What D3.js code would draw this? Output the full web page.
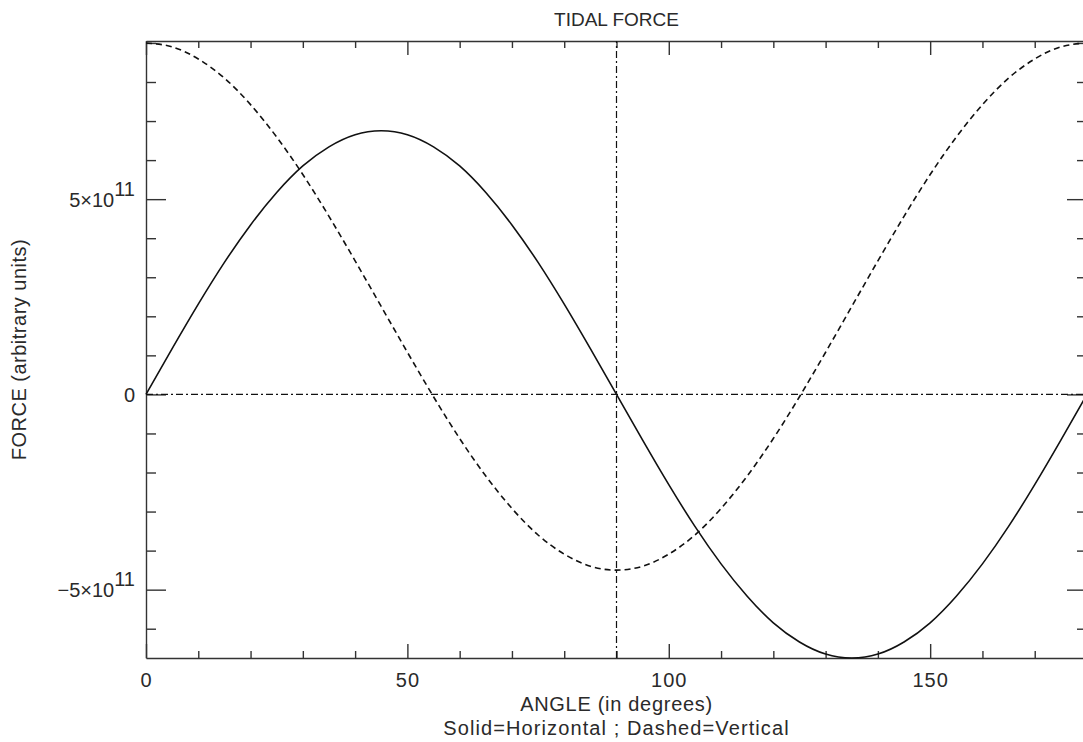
<!DOCTYPE html>
<html lang="en">
  <head>
    <meta charset="utf-8">
    <title>Tidal force</title>
    <script src="https://d3js.org/d3.v7.min.js"></script>
    <style>
      body { margin: 0; background: white; }
      svg { background: white; display: block; }
      text { font-family: "Liberation Sans", Arial, sans-serif; fill: #2a2a2a; }
      .axis path, .axis line { stroke: #333; stroke-width: 1.4; }
      .axis text { font-size: 20px; fill: #2a2a2a; font-family: "Liberation Sans", Arial, sans-serif; }
    </style>
  </head>
  <body>
    <script>
      // angle in degrees, force in units of 1e11
      var angles = [0, 5, 10, 15, 20, 25, 30, 35, 40, 45, 50, 55, 60, 65, 70, 75, 80, 85, 90,
                    95, 100, 105, 110, 115, 120, 125, 130, 135, 140, 145, 150, 155, 160, 165, 170, 175, 180];
      var horizontal = [0, 1.17, 2.31, 3.38, 4.34, 5.17, 5.85, 6.34, 6.65, 6.75, 6.65, 6.34, 5.85, 5.17, 4.34, 3.38, 2.31, 1.17, 0,
                        -1.17, -2.31, -3.38, -4.34, -5.17, -5.85, -6.34, -6.65, -6.75, -6.65, -6.34, -5.85, -5.17, -4.34, -3.38, -2.31, -1.17, 0];
      var vertical = [9.0, 8.9, 8.59, 8.1, 7.42, 6.59, 5.63, 4.56, 3.42, 2.25, 1.08, -0.06, -1.13, -2.09, -2.92, -3.6, -4.09, -4.4, -4.5,
                      -4.4, -4.09, -3.6, -2.92, -2.09, -1.13, -0.06, 1.08, 2.25, 3.42, 4.56, 5.63, 6.59, 7.42, 8.1, 8.59, 8.9, 9.0];
      var xMajor = [0, 50, 100, 150];
      var xMinor = [10, 20, 30, 40, 60, 70, 80, 90, 110, 120, 130, 140, 160, 170];
      var yMajor = [-5, 0, 5];
      var yMinor = [-6, -4, -3, -2, -1, 1, 2, 3, 4, 6, 7, 8, 9];

      var W = 1083, H = 742;
      var mLeft = 146, mRight = 1087, mTop = 41, mBottom = 658;

      var svg = d3.select("body").append("svg").attr("width", W).attr("height", H);

      var x = d3.scaleLinear().domain([0, 180]).range([mLeft, mRight]);
      var y = d3.scaleLinear().domain([-6.75, 9.05]).range([mBottom, mTop]);

      // axes: ticks point inward
      svg.append("g").attr("class", "axis").attr("transform", "translate(0," + mBottom + ")")
        .call(d3.axisBottom(x).tickValues(xMajor).tickSizeInner(-14).tickSizeOuter(0).tickPadding(15).tickFormat(d3.format("d")))
        .selectAll("text").attr("letter-spacing", "1px");
      svg.append("g").attr("class", "axis").attr("transform", "translate(0," + mBottom + ")")
        .call(d3.axisBottom(x).tickValues(xMinor).tickSizeInner(-7).tickSizeOuter(0).tickFormat(""))
        .select(".domain").remove();
      svg.append("g").attr("class", "axis").attr("transform", "translate(0," + mTop + ")")
        .call(d3.axisTop(x).tickValues(xMajor).tickSizeInner(-14).tickSizeOuter(0).tickFormat(""));
      svg.append("g").attr("class", "axis").attr("transform", "translate(0," + mTop + ")")
        .call(d3.axisTop(x).tickValues(xMinor).tickSizeInner(-7).tickSizeOuter(0).tickFormat(""))
        .select(".domain").remove();

      var yl = svg.append("g").attr("class", "axis").attr("transform", "translate(" + mLeft + ",0)")
        .call(d3.axisLeft(y).tickValues(yMajor).tickSizeInner(-20).tickSizeOuter(0).tickPadding(11).tickFormat(d3.format("d")));
      svg.append("g").attr("class", "axis").attr("transform", "translate(" + mLeft + ",0)")
        .call(d3.axisLeft(y).tickValues(yMinor).tickSizeInner(-10).tickSizeOuter(0).tickFormat(""))
        .select(".domain").remove();
      svg.append("g").attr("class", "axis").attr("transform", "translate(" + mRight + ",0)")
        .call(d3.axisRight(y).tickValues(yMajor).tickSizeInner(-20).tickSizeOuter(0).tickFormat(""));
      svg.append("g").attr("class", "axis").attr("transform", "translate(" + mRight + ",0)")
        .call(d3.axisRight(y).tickValues(yMinor).tickSizeInner(-10).tickSizeOuter(0).tickFormat(""))
        .select(".domain").remove();

      // y tick labels with superscript exponent
      yl.selectAll(".tick text").each(function(d) {
        var t = d3.select(this).attr("dy", "0.35em");
        if (d === 0) { t.text("0"); return; }
        t.text(null);
        t.append("tspan").text((d < 0 ? "\u2212" : "") + Math.abs(d) + "\u00d710");
        t.append("tspan").attr("dy", "-0.55em").text("11");
      });

      // reference lines
      svg.append("line").attr("x1", x(0)).attr("x2", x(180)).attr("y1", y(0)).attr("y2", y(0))
        .attr("stroke", "#111").attr("stroke-width", 1.2).attr("stroke-dasharray", "7,3,2,3");
      svg.append("line").attr("x1", x(90)).attr("x2", x(90)).attr("y1", y(-6.75)).attr("y2", y(9.05))
        .attr("stroke", "#111").attr("stroke-width", 1.2).attr("stroke-dasharray", "7,3,2,3");

      var line = d3.line().x(function(d) { return x(d[0]); }).y(function(d) { return y(d[1]); }).curve(d3.curveNatural);

      svg.append("path").datum(angles.map(function(a, i) { return [a, horizontal[i]]; }))
        .attr("d", line).attr("fill", "none").attr("stroke", "#111").attr("stroke-width", 1.6);
      svg.append("path").datum(angles.map(function(a, i) { return [a, vertical[i]]; }))
        .attr("d", line).attr("fill", "none").attr("stroke", "#111").attr("stroke-width", 1.6)
        .attr("stroke-dasharray", "6,4");

      // titles
      var cx = (mLeft + mRight) / 2;
      svg.append("text").attr("x", cx).attr("y", 26).attr("text-anchor", "middle")
        .style("font-size", "19px").text("TIDAL FORCE");
      svg.append("text").attr("x", cx).attr("y", 711).attr("text-anchor", "middle")
        .style("font-size", "20px").attr("letter-spacing", "0.7px").text("ANGLE (in degrees)");
      svg.append("text").attr("x", cx).attr("y", 735).attr("text-anchor", "middle")
        .style("font-size", "20px").attr("letter-spacing", "1.1px").text("Solid=Horizontal ; Dashed=Vertical");
      svg.append("text").attr("transform", "translate(26," + (mTop + mBottom) / 2 + ") rotate(-90)")
        .attr("text-anchor", "middle").style("font-size", "20px").attr("letter-spacing", "0.5px")
        .text("FORCE (arbitrary units)");
    </script>
  </body>
</html>
